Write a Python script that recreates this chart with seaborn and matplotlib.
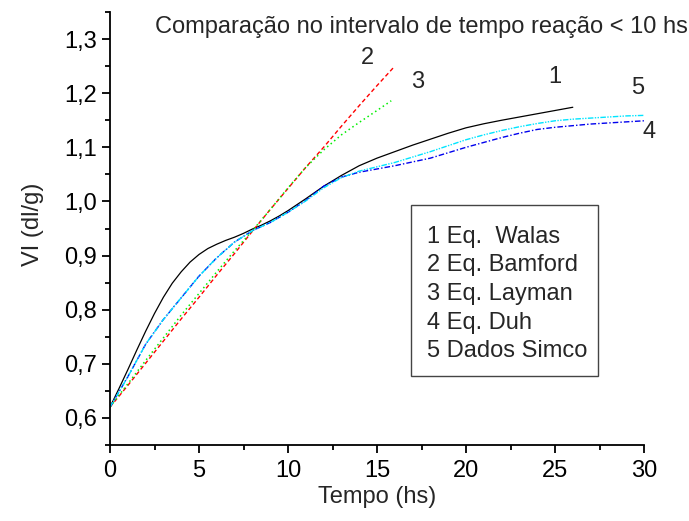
import matplotlib
matplotlib.use("Agg")
import matplotlib.pyplot as plt
from matplotlib.patches import Rectangle
import seaborn as sns
import numpy as np
import pandas as pd
from matplotlib.ticker import MultipleLocator, FuncFormatter

# ---- data ----
walas_x = [0, 0.5, 1, 1.5, 2, 2.5, 3, 3.5, 4, 4.5, 5, 5.5, 6, 6.5, 7, 7.5, 8, 8.5, 9, 9.5,
           10, 11, 12, 13, 14, 15, 16, 17, 18, 19, 20, 21, 22, 23, 24, 25, 26]
walas_y = [0.620, 0.654, 0.689, 0.725, 0.760, 0.793, 0.823, 0.849, 0.870, 0.888, 0.902,
           0.913, 0.921, 0.928, 0.934, 0.941, 0.949, 0.956, 0.964, 0.973,
           0.983, 1.005, 1.028, 1.048, 1.066, 1.080, 1.092, 1.104, 1.115, 1.126,
           1.136, 1.1435, 1.150, 1.156, 1.162, 1.168, 1.174]

bamford_x = [0, 1, 2, 3, 4, 5, 6, 7, 8, 9, 10, 11, 12, 13, 14, 15, 16]
bamford_y = [0.620, 0.660, 0.701, 0.742, 0.783, 0.823, 0.864, 0.904, 0.945, 0.985,
             1.024, 1.063, 1.100, 1.139, 1.177, 1.214, 1.250]

layman_x = [0, 1, 2, 3, 4, 5, 6, 7, 8, 9, 10, 11, 12, 13, 14, 15, 15.8]
layman_y = [0.620, 0.663, 0.706, 0.748, 0.790, 0.830, 0.870, 0.909, 0.946, 0.985,
            1.025, 1.063, 1.095, 1.123, 1.146, 1.168, 1.186]

duh_x = list(range(0, 31))
duh_y = [0.620, 0.676, 0.736, 0.782, 0.822, 0.862, 0.896, 0.925, 0.946, 0.961,
         0.980, 1.002, 1.028, 1.045, 1.054, 1.060, 1.066, 1.073, 1.080, 1.090,
         1.100, 1.109, 1.118, 1.126, 1.133, 1.137, 1.140, 1.143, 1.145, 1.147, 1.149]

simco_x = list(range(0, 31))
simco_y = [0.620, 0.676, 0.736, 0.782, 0.822, 0.862, 0.896, 0.925, 0.946, 0.961,
           0.980, 1.001, 1.025, 1.044, 1.056, 1.064, 1.072, 1.082, 1.092, 1.103,
           1.114, 1.123, 1.131, 1.138, 1.144, 1.149, 1.152, 1.154, 1.156, 1.158, 1.159]

legend_lines = ["1 Eq.  Walas", "2 Eq. Bamford", "3 Eq. Layman", "4 Eq. Duh", "5 Dados Simco"]
curve_labels = ["1", "2", "3", "4", "5"]
title_text = "Comparação no intervalo de tempo reação < 10 hs"
x_label = "Tempo (hs)"
y_label = "VI (dl/g)"

# ---- style ----
sns.set_style("ticks")
plt.rcParams['font.family'] = ['Liberation Sans', 'DejaVu Sans']

W, H = 689, 521
FS = 17
fig = plt.figure(figsize=(W / 100, H / 100), dpi=100)
ax = fig.add_axes([110/W, 1-445/H, (644-110)/W, (445-12)/H])

def fx(px):
    return px / W

def fy(py):
    return 1 - py / H

sns.lineplot(x=walas_x, y=walas_y, ax=ax, color="black", linewidth=0.9, linestyle="-")
sns.lineplot(x=bamford_x, y=bamford_y, ax=ax, color="#ff0000", linewidth=1.0,
             linestyle=(0, (3, 2)))
sns.lineplot(x=layman_x, y=layman_y, ax=ax, color="#00ee00", linewidth=1.1,
             linestyle=(0, (1, 2)))
sns.lineplot(x=duh_x, y=duh_y, ax=ax, color="#0000ee", linewidth=1.0,
             linestyle=(0, (4, 1.5, 1, 1.5)))
sns.lineplot(x=simco_x, y=simco_y, ax=ax, color="#00e5ff", linewidth=1.0,
             linestyle=(0, (4, 1, 1, 1, 1, 1)))

ax.set_xlim(0, 30)
ax.set_ylim(0.55, 1.35)
ax.xaxis.set_major_locator(MultipleLocator(5))
ax.xaxis.set_minor_locator(MultipleLocator(2.5))
ax.yaxis.set_major_locator(MultipleLocator(0.1))
ax.yaxis.set_minor_locator(MultipleLocator(0.05))
ax.set_yticks([0.6, 0.7, 0.8, 0.9, 1.0, 1.1, 1.2, 1.3])
ax.yaxis.set_major_formatter(FuncFormatter(lambda v, p: f"{v:.1f}".replace('.', ',')))

sns.despine(ax=ax)
for s in ["left", "bottom"]:
    ax.spines[s].set_linewidth(1.3)
    ax.spines[s].set_color("black")
ax.tick_params(which="major", direction="out", length=5.8, width=1.3, labelsize=FS,
               colors="black")
ax.tick_params(axis="y", which="major", pad=3.6)
ax.tick_params(axis="x", which="major", pad=5)
ax.tick_params(which="minor", direction="out", length=3.6, width=1.3, colors="black")

ax.set_xlabel("")
ax.set_ylabel("")
fig.text(fx(377), fy(497), x_label, ha="center", va="center", fontsize=FS)
fig.text(fx(33), fy(224), y_label, ha="center", va="center", rotation=90, fontsize=FS)

# title inside the plot
fig.text(fx(421), fy(27), title_text, ha="center", va="center", fontsize=FS)

# curve number labels
for txt, (px, py) in zip(curve_labels, [(555, 77), (367, 58), (418, 82), (649, 132), (638, 88)]):
    fig.text(fx(px), fy(py), txt, ha="center", va="center", fontsize=FS)

# legend box
fig.patches.append(Rectangle((fx(411), fy(376)), fx(598) - fx(411), fy(205) - fy(376),
                             transform=fig.transFigure, facecolor="white",
                             edgecolor="#444444", linewidth=1.0, zorder=3))
for i, line in enumerate(legend_lines):
    fig.text(fx(427), fy(243 + 28.5 * i), line, ha="left", va="baseline", fontsize=FS,
             zorder=4)

fig.savefig("out.png", dpi=100)
